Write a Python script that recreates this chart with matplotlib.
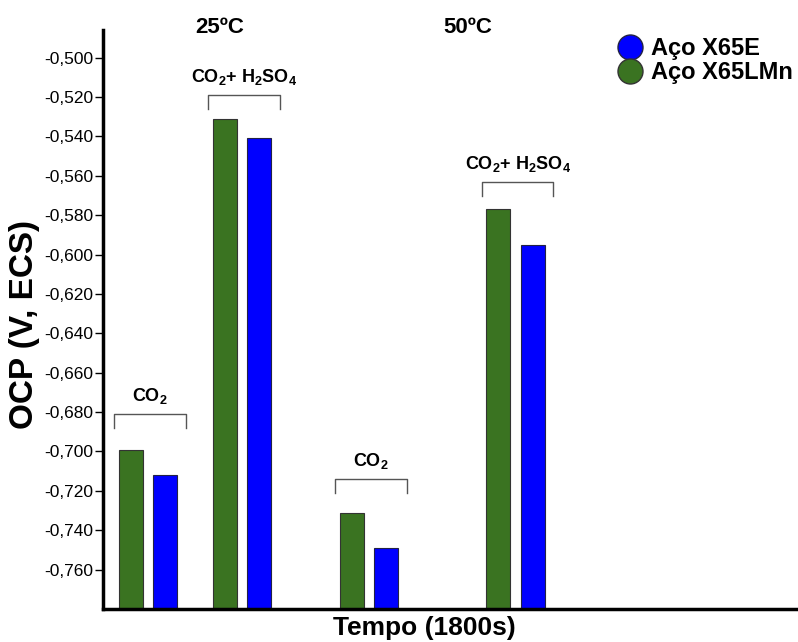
import matplotlib
matplotlib.use("Agg")
import matplotlib.pyplot as plt
from matplotlib.lines import Line2D
from matplotlib.ticker import FuncFormatter

plt.rcParams['font.family'] = ['Liberation Sans', 'DejaVu Sans']
plt.rcParams['mathtext.fontset'] = 'custom'
plt.rcParams['mathtext.rm'] = 'Liberation Sans:bold'
plt.rcParams['mathtext.default'] = 'rm'

# valores
grupos = ['CO$_2$', 'CO$_2$+ H$_2$SO$_4$', 'CO$_2$', 'CO$_2$+ H$_2$SO$_4$']
temperaturas = ['25ºC', '50ºC']
ocp_x65lmn = [-0.699, -0.531, -0.731, -0.577]   # verde
ocp_x65e = [-0.712, -0.541, -0.749, -0.595]     # azul
series = ['Aço X65E', 'Aço X65LMn']

# layout (unidade = largura da barra)
pos = [1.875, 5.79, 11.08, 17.2]
pos_temp = [4.875, 15.2]
desloc = 0.72
larg = 1.0
gap_colchete = [0.018, 0.012, 0.017, 0.014]
verde = '#3a7321'
azul = '#0000ff'

fig = plt.figure(figsize=(7.98, 6.42), dpi=100)
ax = fig.add_axes([0.129, 0.0514, 0.871, 0.9016])

xg = [p - desloc for p in pos]
xb = [p + desloc for p in pos]
base = -0.780
ax.bar(xg, [v - base for v in ocp_x65lmn], bottom=base, width=larg,
       color=verde, edgecolor='#333333', linewidth=0.8, zorder=2)
ax.bar(xb, [v - base for v in ocp_x65e], bottom=base, width=larg,
       color=azul, edgecolor='#222244', linewidth=0.8, zorder=2)

# colchetes e rotulos dos grupos
for i in range(len(pos)):
    topo = max(ocp_x65lmn[i], ocp_x65e[i]) + gap_colchete[i]
    x0 = xg[i] - 0.7
    x1 = xb[i] + 0.85
    ax.plot([x0, x0, x1, x1], [topo - 0.007, topo, topo, topo - 0.007],
            color='#555555', lw=1.0, clip_on=False)
    ax.text((x0 + x1) / 2, topo + 0.004, grupos[i], ha='center', va='bottom',
            fontsize=13, fontweight='bold')

for i in range(len(temperaturas)):
    ax.text(pos_temp[i], -0.4848, temperaturas[i], ha='center', va='center',
            fontsize=16, fontweight='bold', clip_on=False)

ax.set_xlim(0, 28.96)
ax.set_ylim(-0.780, -0.486)
ax.set_yticks([-0.5 - 0.02 * k for k in range(14)])
ax.yaxis.set_major_formatter(FuncFormatter(lambda v, p: ('%.3f' % v).replace('.', ',')))
ax.tick_params(axis='y', direction='out', length=6, width=1, pad=1, labelsize=12.5)
ax.set_xticks([])

for s in ['top', 'right']:
    ax.spines[s].set_visible(False)
ax.spines['left'].set_linewidth(2.5)
ax.spines['bottom'].set_linewidth(2.5)

ax.set_ylabel('OCP (V, ECS)', fontsize=24, fontweight='bold', va='center')
ax.yaxis.set_label_coords(-0.113, 0.492)
ax.set_xlabel('Tempo (1800s)', fontsize=19, fontweight='bold', va='center')
ax.xaxis.set_label_coords(0.463, -0.032)

handles = [Line2D([], [], marker='o', ls='', markersize=18, color=azul,
                  markeredgecolor='#222244'),
           Line2D([], [], marker='o', ls='', markersize=18, color=verde,
                  markeredgecolor='#333333')]
fig.legend(handles, series, loc='upper right', bbox_to_anchor=(1.0, 0.950),
           frameon=False, handlelength=1.0, handletextpad=0.4, labelspacing=0.05,
           prop={'weight': 'bold', 'size': 17}, borderaxespad=0, borderpad=0.2)

fig.savefig('out.png', dpi=100)
